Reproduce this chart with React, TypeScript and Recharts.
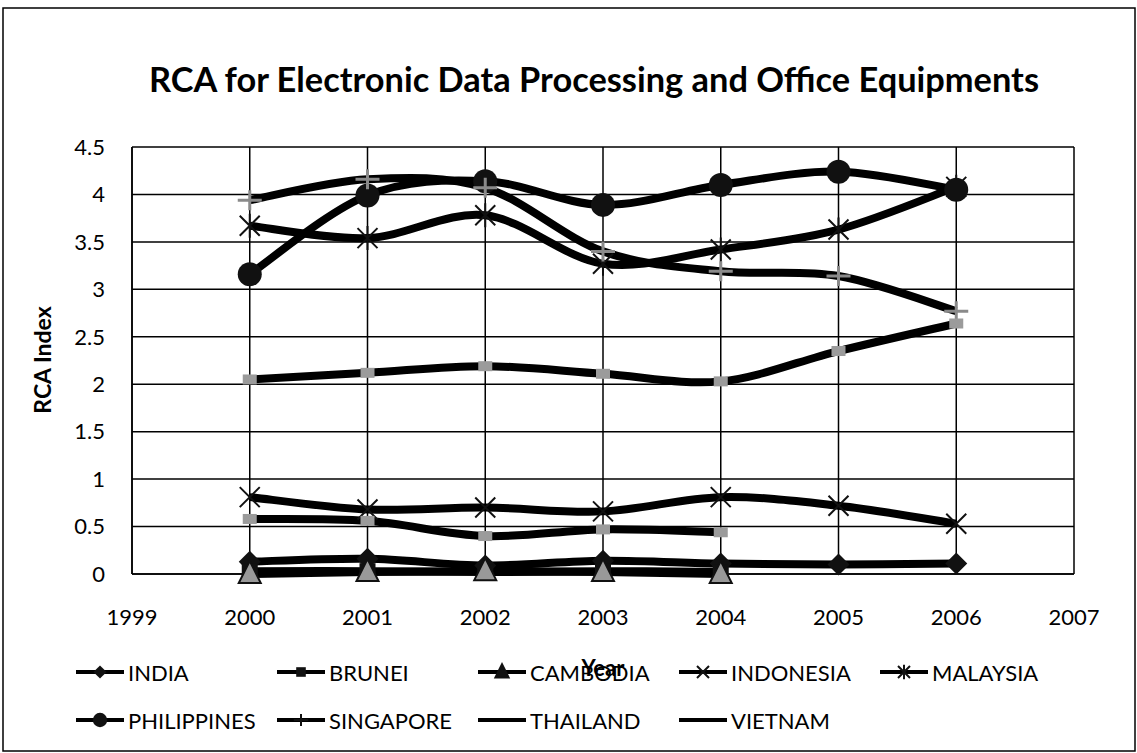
import React from 'react';
import { LineChart, Line, XAxis, YAxis, CartesianGrid } from 'recharts';

// RCA index by year, 2000-2006
const years = [2000, 2001, 2002, 2003, 2004, 2005, 2006];
const india = [0.13, 0.16, 0.09, 0.14, 0.11, 0.1, 0.11];
const brunei = [0.03, 0.03, 0.02, 0.03, 0.02, null, null];
const cambodia = [0.0, 0.02, 0.03, 0.02, 0.0, null, null];
const indonesia = [0.81, 0.68, 0.7, 0.66, 0.81, 0.72, 0.53];
const malaysia = [3.67, 3.54, 3.78, 3.27, 3.42, 3.63, 4.08];
const philippines = [3.16, 3.99, 4.14, 3.89, 4.1, 4.24, 4.05];
const singapore = [3.94, 4.16, 4.07, 3.4, 3.19, 3.14, 2.77];
const thailand = [2.05, 2.12, 2.19, 2.11, 2.03, 2.35, 2.64];
const vietnam = [0.58, 0.56, 0.4, 0.47, 0.44, null, null];

const xTicks = [1999, 2000, 2001, 2002, 2003, 2004, 2005, 2006, 2007];
const yTicks = [0, 0.5, 1, 1.5, 2, 2.5, 3, 3.5, 4, 4.5];

type MarkerKind = 'diamond' | 'square' | 'triangle' | 'x' | 'star' | 'circle' | 'plus' | 'block';

const SERIES: { name: string; values: (number | null)[]; marker: MarkerKind; legendMarker: boolean }[] = [
  { name: 'INDIA', values: india, marker: 'diamond', legendMarker: true },
  { name: 'BRUNEI', values: brunei, marker: 'square', legendMarker: true },
  { name: 'CAMBODIA', values: cambodia, marker: 'triangle', legendMarker: true },
  { name: 'INDONESIA', values: indonesia, marker: 'x', legendMarker: true },
  { name: 'MALAYSIA', values: malaysia, marker: 'star', legendMarker: true },
  { name: 'PHILIPPINES', values: philippines, marker: 'circle', legendMarker: true },
  { name: 'SINGAPORE', values: singapore, marker: 'plus', legendMarker: true },
  { name: 'THAILAND', values: thailand, marker: 'block', legendMarker: false },
  { name: 'VIETNAM', values: vietnam, marker: 'block', legendMarker: false },
];

const rows = years.map((year, i) => {
  const row: Record<string, number | null> = { year };
  SERIES.forEach((s) => {
    row[s.name] = s.values[i];
  });
  return row;
});

// legend grid: 5 equal columns, 2 rows
const LEGEND_X = 76;
const LEGEND_COL = 201;
const LEGEND_ROWS = [672, 720];

const FONT = 'Lato, "Open Sans", sans-serif';

// Excel-style smoothed line: cubic bezier through every point
function excelSmooth(context: any) {
  let pts: number[][] = [];
  return {
    areaStart() {},
    areaEnd() {},
    lineStart() {
      pts = [];
    },
    point(x: number, y: number) {
      pts.push([+x, +y]);
    },
    lineEnd() {
      const n = pts.length;
      if (!n) return;
      context.moveTo(pts[0][0], pts[0][1]);
      if (n === 1) {
        context.lineTo(pts[0][0], pts[0][1]);
        return;
      }
      for (let i = 0; i < n - 1; i++) {
        const p0 = pts[i - 1] || pts[i];
        const p1 = pts[i];
        const p2 = pts[i + 1];
        const p3 = pts[i + 2] || p2;
        context.bezierCurveTo(
          p1[0] + (p2[0] - p0[0]) / 6,
          p1[1] + (p2[1] - p0[1]) / 6,
          p2[0] - (p3[0] - p1[0]) / 6,
          p2[1] - (p3[1] - p1[1]) / 6,
          p2[0],
          p2[1]
        );
      }
    },
  };
}

function Marker({ kind, x, y, s = 1 }: { kind: MarkerKind; x: number; y: number; s?: number }) {
  switch (kind) {
    case 'diamond':
      return (
        <polygon
          points={`${x},${y - 11 * s} ${x + 11 * s},${y} ${x},${y + 11 * s} ${x - 11 * s},${y}`}
          fill="#111"
        />
      );
    case 'square':
      return <rect x={x - 8 * s} y={y - 8 * s} width={16 * s} height={16 * s} fill="#111" />;
    case 'triangle':
      return (
        <polygon
          points={`${x},${y - 13 * s} ${x + 11 * s},${y + 9 * s} ${x - 11 * s},${y + 9 * s}`}
          fill={s < 1 ? '#111' : '#999'}
          stroke="#111"
          strokeWidth={2}
        />
      );
    case 'x':
      return (
        <path
          d={`M${x - 10 * s},${y - 10 * s}L${x + 10 * s},${y + 10 * s}M${x + 10 * s},${y - 10 * s}L${x - 10 * s},${y + 10 * s}`}
          stroke="#111"
          strokeWidth={2}
        />
      );
    case 'star':
      return (
        <path
          d={`M${x - 10 * s},${y - 10 * s}L${x + 10 * s},${y + 10 * s}M${x + 10 * s},${y - 10 * s}L${x - 10 * s},${y + 10 * s}M${x},${y - 12 * s}L${x},${y + 12 * s}`}
          stroke="#111"
          strokeWidth={2}
        />
      );
    case 'circle':
      return <circle cx={x} cy={y} r={12 * s} fill="#111" />;
    case 'plus':
      return (
        <path
          d={`M${x - 12 * s},${y}L${x + 12 * s},${y}M${x},${y - 10 * s}L${x},${y + 10 * s}`}
          stroke={s < 1 ? '#111' : '#8a8a8a'}
          strokeWidth={s < 1 ? 2 : 3}
        />
      );
    case 'block':
      return <rect x={x - 7} y={y - 5} width={14} height={10} fill="#9b9b9b" />;
    default:
      return null;
  }
}

const makeDot = (name: string, kind: MarkerKind) => (props: any) => {
  const { cx, cy, index } = props;
  if (cx == null || cy == null || props.value == null) return <g key={`${name}-${index}`} />;
  return (
    <g key={`${name}-${index}`}>
      <Marker kind={kind} x={cx} y={cy} />
    </g>
  );
};

export default function App() {
  return (
    <div
      style={{
        position: 'absolute',
        left: 0,
        top: 0,
        width: 1137,
        height: 753,
        background: '#fff',
        fontFamily: FONT,
      }}
    >
      <LineChart width={1137} height={753} data={rows} margin={{ top: 147, right: 63, bottom: 0, left: 0 }}>
        <CartesianGrid stroke="#000" strokeWidth={1.5} />
        <XAxis
          dataKey="year"
          type="number"
          domain={[1999, 2007]}
          ticks={xTicks}
          height={179}
          tickLine={false}
          tickSize={0}
          tickMargin={35}
          axisLine={{ stroke: '#000', strokeWidth: 1.5 }}
          tick={{ fill: '#000', fontSize: 22, fontFamily: FONT }}
        />
        <YAxis
          type="number"
          domain={[0, 4.5]}
          ticks={yTicks}
          width={132}
          tickLine={false}
          tickSize={0}
          tickMargin={27}
          axisLine={{ stroke: '#000', strokeWidth: 1.5 }}
          tick={{ fill: '#000', fontSize: 22, fontFamily: FONT }}
        />
        {SERIES.map((s) => (
          <Line
            key={s.name}
            dataKey={s.name}
            type={excelSmooth as any}
            stroke="#000"
            strokeWidth={8}
            dot={makeDot(s.name, s.marker)}
            activeDot={false}
            connectNulls={false}
            isAnimationActive={false}
          />
        ))}
      </LineChart>

      <svg
        width={1137}
        height={753}
        style={{ position: 'absolute', left: 0, top: 0, pointerEvents: 'none' }}
        fontFamily={FONT}
      >
        <rect x={3} y={8} width={1132} height={743} fill="none" stroke="#000" strokeWidth={1.5} />
        <text x={594} y={92} textAnchor="middle" fontSize={34} fontWeight={700} textLength={890} lengthAdjust="spacingAndGlyphs">
          RCA for Electronic Data Processing and Office Equipments
        </text>
        <text
          transform="translate(42,360) rotate(-90)"
          textAnchor="middle"
          dominantBaseline="central"
          fontSize={23}
          fontWeight={700}
        >
          RCA Index
        </text>
        {SERIES.map((s, i) => {
          const lx = LEGEND_X + (i % 5) * LEGEND_COL;
          const ly = LEGEND_ROWS[Math.floor(i / 5)];
          return (
            <g key={s.name}>
              <line x1={lx} y1={ly} x2={lx + 48} y2={ly} stroke="#000" strokeWidth={4} />
              {s.legendMarker && <Marker kind={s.marker} x={lx + 24} y={ly} s={0.6} />}
              <text x={lx + 52} y={ly} dominantBaseline="central" fontSize={22}>
                {s.name}
              </text>
            </g>
          );
        })}
        <text x={603} y={667} textAnchor="middle" dominantBaseline="central" fontSize={22} fontWeight={700}>
          Year
        </text>
      </svg>
    </div>
  );
}
